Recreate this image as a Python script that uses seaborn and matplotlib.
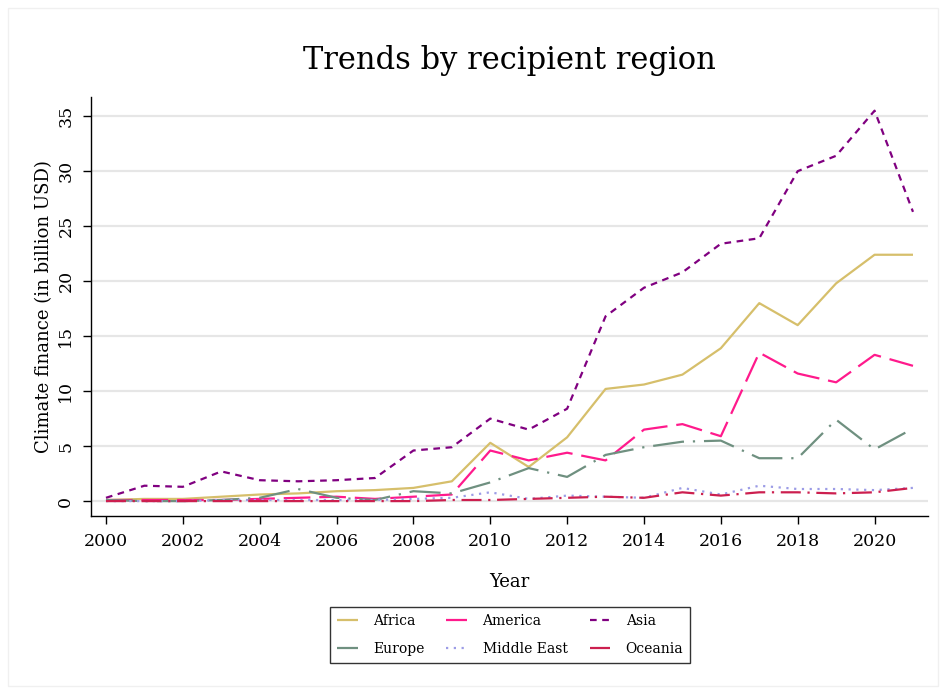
import numpy as np
import pandas as pd
import matplotlib
matplotlib.use("Agg")
import matplotlib.pyplot as plt
import seaborn as sns
from matplotlib.lines import Line2D

years = list(range(2000, 2022))
africa = [0.1, 0.2, 0.2, 0.4, 0.6, 0.7, 0.9, 1.0, 1.2, 1.8, 5.3, 3.1, 5.8, 10.2, 10.6, 11.5, 13.9, 18.0, 16.0, 19.8, 22.4, 22.4]
america = [0.1, 0.1, 0.1, 0.1, 0.2, 0.3, 0.4, 0.2, 0.4, 0.6, 4.6, 3.7, 4.4, 3.7, 6.5, 7.0, 5.9, 13.5, 11.6, 10.8, 13.3, 12.3]
asia = [0.3, 1.4, 1.3, 2.7, 1.9, 1.8, 1.9, 2.1, 4.6, 4.9, 7.5, 6.5, 8.4, 16.8, 19.4, 20.8, 23.4, 23.9, 30.0, 31.4, 35.5, 26.3]
europe = [0.1, 0.0, 0.0, 0.1, 0.3, 1.1, 0.3, 0.1, 0.9, 0.7, 1.7, 3.0, 2.2, 4.2, 4.9, 5.4, 5.5, 3.9, 3.9, 7.4, 4.7, 6.6]
middle_east = [0.0, 0.0, 0.0, 0.1, 0.1, 0.1, 0.1, 0.1, 0.2, 0.3, 0.8, 0.2, 0.5, 0.4, 0.3, 1.2, 0.6, 1.4, 1.1, 1.1, 1.0, 1.2]
oceania = [0.0, 0.0, 0.0, 0.0, 0.0, 0.0, 0.0, 0.0, 0.0, 0.1, 0.1, 0.2, 0.3, 0.4, 0.3, 0.8, 0.5, 0.8, 0.8, 0.7, 0.8, 1.2]

regions = ["Africa", "America", "Asia", "Europe", "Middle East", "Oceania"]
series = [africa, america, asia, europe, middle_east, oceania]
colors = ["#d6bf6b", "#ff1a8c", "#800080", "#6f9080", "#9c9ce6", "#cc1f4f"]
dashes = [(1, 0), (12, 4), (3, 2.5), (14, 4, 1, 4), (1, 2.5), (9, 3, 1, 3)]

df = pd.DataFrame({
    "Year": np.tile(years, len(regions)),
    "Value": np.concatenate([np.array(s, dtype=float) for s in series]),
    "Region": np.repeat(regions, len(years)),
})

sns.set_theme(style="white")
plt.rcParams["font.family"] = ["DejaVu Serif"]
plt.rcParams["text.color"] = "black"
plt.rcParams["axes.labelcolor"] = "black"
plt.rcParams["xtick.color"] = "black"
plt.rcParams["ytick.color"] = "black"

fig = plt.figure(figsize=(9.4, 6.89), dpi=100)
fig.patch.set_facecolor("white")
ax = fig.add_axes([0.0968, 0.251, 0.89, 0.608])

sns.lineplot(data=df, x="Year", y="Value", hue="Region", style="Region",
             palette=dict(zip(regions, colors)), dashes=dict(zip(regions, dashes)),
             linewidth=1.6, ax=ax, legend=False)

ax.set_xlim(1999.61, 2021.38)
ax.set_ylim(-1.36, 36.73)
ax.set_xticks(range(2000, 2021, 2))
ax.set_yticks(range(0, 36, 5))
ax.yaxis.grid(True, color="#e6e6e6", linewidth=1.6)
ax.set_axisbelow(True)
for s in ["top", "right"]:
    ax.spines[s].set_visible(False)
for s in ["left", "bottom"]:
    ax.spines[s].set_color("black")
    ax.spines[s].set_linewidth(1.0)
ax.tick_params(axis="both", direction="out", length=6, width=1, color="black",
               labelsize=12.5, labelcolor="black", bottom=True, left=True, pad=6)
for lbl in ax.get_yticklabels():
    lbl.set_rotation(90)
    lbl.set_va("center")
ax.set_xlabel("Year", fontsize=13, labelpad=17, color="black")
ax.set_ylabel("Climate finance (in billion USD)", fontsize=13, labelpad=3, color="black")
ax.set_title("Trends by recipient region", fontsize=22, pad=20, color="black")

order = ["Africa", "America", "Asia", "Europe", "Middle East", "Oceania"]
handles = []
for r in order:
    i = regions.index(r)
    handles.append(Line2D([], [], color=colors[i], linewidth=1.6, dashes=dashes[i]))
col_order = [0, 3, 1, 4, 2, 5]
leg = fig.legend([handles[i] for i in col_order], [order[i] for i in col_order],
                 ncol=3, loc="center", bbox_to_anchor=(0.5426, 0.078),
                 frameon=True, fancybox=False, fontsize=10, handlelength=1.5,
                 columnspacing=1.6, handletextpad=1.1, borderpad=0.5,
                 labelspacing=1.0, borderaxespad=0)
leg.get_frame().set_edgecolor("black")
leg.get_frame().set_linewidth(1.0)
for t in leg.get_texts():
    t.set_color("black")

border = plt.Rectangle((0.008, 0.004), 0.99, 0.985, transform=fig.transFigure,
                       fill=False, edgecolor="#f0f0f0", linewidth=1)
fig.patches.append(border)

fig.savefig("out.png", dpi=100, facecolor="white")
